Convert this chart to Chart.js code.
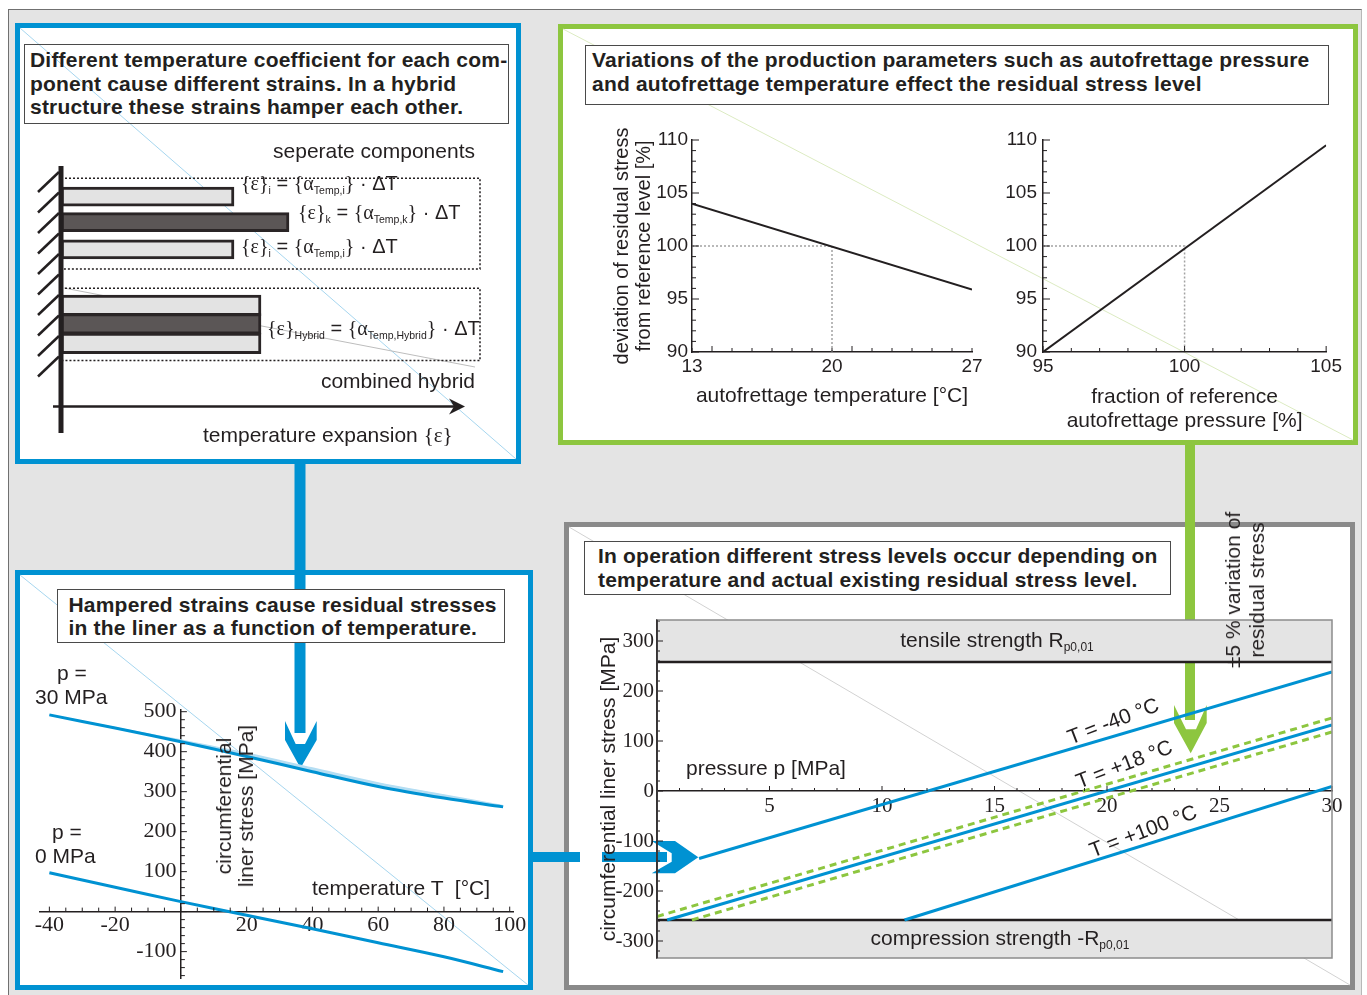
<!DOCTYPE html>
<html>
<head>
<meta charset="utf-8">
<title>Residual stresses in a hybrid liner</title>
<script src="https://cdn.jsdelivr.net/npm/chart.js@4.4.1/dist/chart.umd.min.js"></script>
<style>
  body { margin: 0; background: #fff; }
  #page { position: relative; width: 1367px; height: 995px; overflow: hidden;
          font-family: "Liberation Sans", Arial, sans-serif; color: #231f20; }
  #frame { position: absolute; left: 8px; top: 9px; width: 1352px; height: 990px; background: #e4e4e4;
           border-left: 1.5px solid #707070; border-top: 1.5px solid #707070; border-right: 1px solid #b8b8b8; }
  .panel { position: absolute; box-sizing: border-box; background: #fff; border: 5px solid; }
  .blue { border-color: #0092d2; }
  .green { border-color: #8dc63f; }
  .grey { border-color: #8a8a8a; }
  .tbox { position: absolute; box-sizing: border-box; border: 1.5px solid #4a4a4a; background: #fff;
          font-weight: bold; font-size: 21px; letter-spacing: 0.2px; white-space: nowrap; z-index: 5; }
  .lbl { position: absolute; font-size: 21px; line-height: 24px; white-space: nowrap; z-index: 5; }
  .f { font-size: 20px; }
  .f sub { font-size: 10.5px; }
  .c { transform: translateX(-50%); }
  .rot { transform: translate(-50%, -50%) rotate(-90deg); text-align: center; line-height: 22px; }
  .tl { transform: translate(-50%, -50%) rotate(-21deg); }
  sub { font-size: 12px; vertical-align: -4px; line-height: 0; }
  .sym { font-family: "Liberation Serif", "Times New Roman", serif; }
  canvas { position: absolute; z-index: 3; }
  #deco { position: absolute; left: 0; top: 0; z-index: 2; }
</style>
</head>
<body>
<div id="page">
  <div id="frame"></div>

  <div class="panel blue"  style="left:15px;top:23px;width:506px;height:441px"></div>
  <div class="panel green" style="left:558px;top:24px;width:800px;height:421px"></div>
  <div class="panel blue"  style="left:15px;top:570px;width:518px;height:420px"></div>
  <div class="panel grey"  style="left:564px;top:522px;width:791px;height:468px"></div>

  <svg id="deco" width="1367" height="995">
    <line x1="20" y1="28" x2="516" y2="459" stroke="#a6d6ef" stroke-width="1"/>
    <line x1="563" y1="29" x2="1353" y2="440" stroke="#dcebc2" stroke-width="1"/>
    <line x1="20" y1="575" x2="528" y2="985" stroke="#a6d6ef" stroke-width="1"/>
    <line x1="569" y1="527" x2="1350" y2="985" stroke="#d2d2d2" stroke-width="1"/>
    <line x1="64" y1="288" x2="475" y2="367" stroke="#bdbdbd" stroke-width="1"/>
    <!-- blue link: panel 1 -> panel 3 -->
    <rect x="294.5" y="462" width="11" height="271" fill="#0092d2"/>
    <polygon points="285,721 295.7,744 305,744 316.7,721 316.7,740 300.5,768 285,740" fill="#0092d2"/>
    <!-- blue link: panel 3 -> panel 4 -->
    <rect x="531" y="852" width="49" height="10" fill="#0092d2"/>
    <rect x="602" y="852" width="65" height="10" fill="#0092d2"/>
    <polygon points="651.7,841 675,841 698.3,857.3 675,873.3 651.7,873.3 671.7,861.7 671.7,853.3" fill="#0092d2"/>
    <!-- green link: panel 2 -> panel 4 -->
    <rect x="1185" y="443" width="10" height="277" fill="#8dc63f"/>
    <polygon points="1174,705 1186,729.3 1196,729.3 1206.7,705 1206.7,723 1190.7,753.3 1174,723" fill="#8dc63f"/>
  </svg>

  <div class="tbox" style="left:24px;top:44px;width:485px;height:80px;padding:3px 0 0 5px;line-height:23.5px;background:transparent">
    Different temperature coefficient for each com-<br>ponent cause different strains. In a hybrid<br>structure these strains hamper each other.</div>
  <div class="tbox" style="left:585px;top:45px;width:744px;height:60px;padding:1.5px 0 0 6px;line-height:24px">
    Variations of the production parameters such as autofrettage pressure<br>and autofrettage temperature effect the residual stress level</div>
  <div class="tbox" style="left:57px;top:589px;width:448px;height:54px;padding:2.5px 0 0 10.5px;line-height:23.3px">
    Hampered strains cause residual stresses<br>in the liner as a function of temperature.</div>
  <div class="tbox" style="left:584px;top:541px;width:587px;height:54px;padding:1.5px 0 0 13px;line-height:24.5px">
    In operation different stress levels occur depending on<br>temperature and actual existing residual stress level.</div>

  <!-- panel 1 texts -->
  <div class="lbl" style="right:892px;top:139px">seperate components</div>
  <div class="lbl" style="right:892px;top:369px">combined hybrid</div>
  <div class="lbl" style="left:203px;top:423px">temperature expansion <span class="sym">{ε}</span></div>
  <div class="lbl f" style="left:241px;top:171px"><span class="sym">{ε}</span><sub>i</sub> = <span class="sym">{α</span><sub>Temp,i</sub><span class="sym">}</span> · ΔT</div>
  <div class="lbl f" style="left:298px;top:200px"><span class="sym">{ε}</span><sub>k</sub> = <span class="sym">{α</span><sub>Temp,k</sub><span class="sym">}</span> · ΔT</div>
  <div class="lbl f" style="left:241px;top:234px"><span class="sym">{ε}</span><sub>i</sub> = <span class="sym">{α</span><sub>Temp,i</sub><span class="sym">}</span> · ΔT</div>
  <div class="lbl f" style="left:267px;top:316px"><span class="sym">{ε}</span><sub>Hybrid</sub> = <span class="sym">{α</span><sub>Temp,Hybrid</sub><span class="sym">}</span> · ΔT</div>

  <!-- panel 3 texts -->
  <div class="lbl" style="left:57px;top:661px">p =</div>
  <div class="lbl" style="left:35px;top:685px">30 MPa</div>
  <div class="lbl" style="left:52px;top:820px">p =</div>
  <div class="lbl" style="left:35px;top:844px">0 MPa</div>
  <div class="lbl rot" style="left:235px;top:806px">circumferential<br>liner stress [MPa]</div>
  <div class="lbl" style="left:312px;top:876px">temperature T &nbsp;[°C]</div>

  <!-- panel 4 texts -->
  <div class="lbl c" style="left:997px;top:628px">tensile strength R<sub>p0,01</sub></div>
  <div class="lbl c" style="left:1000px;top:926px">compression strength -R<sub>p0,01</sub></div>
  <div class="lbl" style="left:686px;top:756px">pressure p [MPa]</div>
  <div class="lbl tl" style="left:1113px;top:721px">T = -40 °C</div>
  <div class="lbl tl" style="left:1124px;top:764px">T = +18 °C</div>
  <div class="lbl tl" style="left:1143px;top:831px">T = +100 °C</div>
  <div class="lbl rot" style="left:1245px;top:590px;line-height:24px">±5 % variation of<br>residual stress</div>

  <canvas id="layers" width="496" height="330" style="left:20px;top:128px"></canvas>
  <canvas id="afTemp" width="390" height="320" style="left:600px;top:120px"></canvas>
  <canvas id="afPress" width="345" height="320" style="left:1000px;top:120px"></canvas>
  <canvas id="liner" width="508" height="335" style="left:20px;top:650px"></canvas>
  <canvas id="operation" width="784" height="384" style="left:568px;top:600px"></canvas>
</div>

<script>
// ---- panel 1: free thermal strain of the layers and of the hybrid
const layerRows = [1, 1.97, 3];
const layerKinds = ['i', 'k', 'i'];
const layerStrain = [173, 228, 173];
const hybridRows = [5.124, 5.824, 6.565];
const hybridKinds = ['i', 'k', 'i'];
const hybridStrain = [200, 200, 200];

// ---- panel 2: residual stress vs. autofrettage temperature / pressure
const afTemp = [13, 27];
const afTempStress = [104.0, 95.9];
const afTempRefX = [13, 20, 20];
const afTempRefY = [100, 100, 90];
const afPress = [95, 105];
const afPressStress = [90, 109.5];
const afPressRefX = [95, 100, 100];
const afPressRefY = [100, 100, 90];
const deviationTicks = [90, 95, 100, 105, 110];
const afTempTicks = [13, 20, 27];
const afPressTicks = [95, 100, 105];

// ---- panel 3: liner stress vs. temperature
const linerTemp = [-40, -20, 0, 20, 40, 60, 80, 98];
const linerStress30 = [492, 459, 425, 388, 350, 313, 284, 262];
const linerStress30Band = [492, 460, 429, 396, 359, 322, 292, 265];
const linerStress0 = [97, 61, 25, -9, -43, -78, -113, -150];
const linerTempTicks = [-40, -20, 20, 40, 60, 80, 100];
const linerStressTicks = [-100, 100, 200, 300, 400, 500];

// ---- panel 4: liner stress vs. operating pressure
const pM40 = [1.87, 30], sM40 = [-135, 238];
const pP18 = [0.45, 30], sP18 = [-258, 132];
const pP18Hi = [0, 30], sP18Hi = [-251, 146];
const pP18Lo = [1.55, 30], sP18Lo = [-258, 118];
const pP100 = [11.0, 30], sP100 = [-258, 9];
const strengthLimit = 258;
const opPressTicks = [5, 10, 15, 20, 25, 30];
const opStressTicks = [-300, -200, -100, 0, 100, 200, 300];

const INK = '#231f20';
const BLUE = '#0092d2';
const GREEN = '#8dc63f';
const SERIF = '"Liberation Serif", "Times New Roman", serif';
const kindColor = { i: '#e3e3e3', k: '#5b5656' };

Chart.defaults.font.family = '"Liberation Sans", Arial, sans-serif';
Chart.defaults.color = INK;
Chart.defaults.animation = false;
Chart.defaults.responsive = false;
Chart.defaults.plugins.legend.display = false;
Chart.defaults.plugins.tooltip.enabled = false;
Chart.defaults.elements.point.radius = 0;

const pts = (xs, ys) => xs.map((x, i) => ({ x, y: ys[i] }));
const fixTicks = list => scale => { scale.ticks = list.map(v => ({ value: v })); };
// axes drawn through the origin must not push the plot area around
const noRoom = s => { s.width = s.isHorizontal() ? s.width : 0; s.height = s.isHorizontal() ? 0 : s.height;
  s.paddingTop = s.paddingBottom = s.paddingLeft = s.paddingRight = 0; };

// small tick marks drawn on the inner side of the axes
const innerTicks = {
  id: 'innerTicks',
  afterDraw(chart, args, opts) {
    const ctx = chart.ctx;
    ctx.save();
    ctx.strokeStyle = INK;
    ctx.lineWidth = 1;
    ['x', 'y'].forEach(id => {
      const o = opts[id];
      if (!o) return;
      const s = chart.scales[id];
      const pos = s.options.position;
      let base;
      if (id === 'x') base = typeof pos === 'object' ? chart.scales.y.getPixelForValue(pos.y) : s.top;
      else base = typeof pos === 'object' ? chart.scales.x.getPixelForValue(pos.x) : s.right;
      for (let v = o.from; v <= s.max + 1e-9; v += o.step) {
        const p = s.getPixelForValue(v);
        const r = v / o.major;
        const len = Math.abs(r - Math.round(r)) < 1e-6 ? o.long : o.short;
        ctx.beginPath();
        if (id === 'x') { ctx.moveTo(p, base); ctx.lineTo(p, base - len); }
        else { ctx.moveTo(base, p); ctx.lineTo(base + len, p); }
        ctx.stroke();
      }
    });
    ctx.restore();
  }
};

const axisLine = { color: INK, width: 1.5 };
const noGrid = { display: false, drawTicks: false };

// ---------------- panel 1
const layerDecor = {
  id: 'layerDecor',
  afterDatasetsDraw(chart) {
    const { ctx, chartArea: a, scales: { x, y } } = chart;
    ctx.save();
    ctx.strokeStyle = INK;
    ctx.fillStyle = INK;
    ctx.lineWidth = 1.5;
    ctx.setLineDash([2, 2]);
    [[0.3, 3.745], [4.47, 7.216]].forEach(([t, b]) => {
      const yt = y.getPixelForValue(t), yb = y.getPixelForValue(b);
      ctx.strokeRect(a.left, yt, a.right - a.left, yb - yt);
    });
    ctx.setLineDash([]);
    // clamped wall
    ctx.lineWidth = 5;
    ctx.beginPath(); ctx.moveTo(a.left, a.top); ctx.lineTo(a.left, a.bottom); ctx.stroke();
    ctx.lineWidth = 2.5;
    for (let i = 0; i < 10; i++) {
      const yy = a.top + 6 + i * 20.5;
      ctx.beginPath(); ctx.moveTo(a.left - 2, yy); ctx.lineTo(a.left - 23, yy + 20); ctx.stroke();
    }
    // expansion axis arrow
    const ay = y.getPixelForValue(8.96);
    const x0 = x.getPixelForValue(-8), x1 = x.getPixelForValue(404);
    ctx.lineWidth = 2.5;
    ctx.beginPath(); ctx.moveTo(x0, ay); ctx.lineTo(x1 - 8, ay); ctx.stroke();
    ctx.beginPath();
    ctx.moveTo(x1, ay); ctx.lineTo(x1 - 16, ay - 8); ctx.lineTo(x1 - 11, ay);
    ctx.lineTo(x1 - 16, ay + 8); ctx.closePath(); ctx.fill();
    ctx.restore();
  }
};

new Chart(document.getElementById('layers'), {
  type: 'bar',
  data: {
    datasets: [
      { data: pts(layerStrain, layerRows), backgroundColor: layerKinds.map(k => kindColor[k]), barThickness: 19 },
      { data: pts(hybridStrain, hybridRows), backgroundColor: hybridKinds.map(k => kindColor[k]), barThickness: 20.5 }
    ]
  },
  options: {
    indexAxis: 'y',
    datasets: { bar: { grouped: false, borderColor: '#2a2526', borderWidth: 3, borderSkipped: false } },
    layout: { padding: { left: 41, right: 36, top: 38, bottom: 25 } },
    scales: {
      x: { type: 'linear', min: 0, max: 419, display: false },
      y: { type: 'linear', min: 0.3, max: 9.5, reverse: true, display: false }
    }
  },
  plugins: [layerDecor]
});

// ---------------- panel 2
const refLine = { borderColor: '#a3a3a3', borderWidth: 1.5, borderDash: [2, 2] };
const tickFont = { size: 19 };

new Chart(document.getElementById('afTemp'), {
  type: 'line',
  data: {
    datasets: [
      { data: pts(afTemp, afTempStress), borderColor: INK, borderWidth: 2 },
      { data: pts(afTempRefX, afTempRefY), ...refLine }
    ]
  },
  options: {
    layout: { padding: { top: 20, right: 18 } },
    scales: {
      x: {
        type: 'linear', min: 13, max: 27, grid: noGrid, border: axisLine,
        afterBuildTicks: fixTicks(afTempTicks), afterFit: s => { s.height = 88; },
        ticks: { font: tickFont, padding: 3, autoSkip: false, maxRotation: 0 },
        title: { display: true, text: 'autofrettage temperature [°C]', font: { size: 21 }, padding: { bottom: 31 } }
      },
      y: {
        min: 90, max: 110, grid: noGrid, border: axisLine,
        afterBuildTicks: fixTicks(deviationTicks), afterFit: s => { s.width = 92; },
        ticks: { font: tickFont, padding: 4 },
        title: { display: true, text: ['deviation of residual stress', 'from reference level [%]'],
                 font: { size: 20, lineHeight: 1.1 }, padding: { top: 11 } }
      }
    },
    plugins: { innerTicks: {
      x: { from: 13, step: 1, major: 7, short: 4, long: 6 },
      y: { from: 90, step: 1, major: 5, short: 4, long: 7 } } }
  },
  plugins: [innerTicks]
});

new Chart(document.getElementById('afPress'), {
  type: 'line',
  data: {
    datasets: [
      { data: pts(afPress, afPressStress), borderColor: INK, borderWidth: 2 },
      { data: pts(afPressRefX, afPressRefY), ...refLine }
    ]
  },
  options: {
    layout: { padding: { top: 20, right: 18 } },
    scales: {
      x: {
        type: 'linear', min: 95, max: 105, grid: noGrid, border: axisLine,
        afterBuildTicks: fixTicks(afPressTicks), afterFit: s => { s.height = 88; },
        ticks: { font: tickFont, padding: 3, autoSkip: false, maxRotation: 0 },
        title: { display: true, text: ['fraction of reference', 'autofrettage pressure [%]'],
                 font: { size: 21, lineHeight: 1.15 }, padding: { bottom: 7 } }
      },
      y: {
        min: 90, max: 110, grid: noGrid, border: axisLine,
        afterBuildTicks: fixTicks(deviationTicks), afterFit: s => { s.width = 43; },
        ticks: { font: tickFont, padding: 6 }
      }
    },
    plugins: { innerTicks: {
      x: { from: 95, step: 1, major: 5, short: 4, long: 6 },
      y: { from: 90, step: 1, major: 5, short: 4, long: 7 } } }
  },
  plugins: [innerTicks]
});

// ---------------- panel 3
new Chart(document.getElementById('liner'), {
  type: 'line',
  data: {
    datasets: [
      { data: pts(linerTemp, linerStress30), borderColor: BLUE, borderWidth: 3, tension: 0.35 },
      { data: pts(linerTemp, linerStress30Band), borderColor: '#b5def3', borderWidth: 1.5, tension: 0.35,
        fill: '-1', backgroundColor: '#b5def3' },
      { data: pts(linerTemp, linerStress0), borderColor: BLUE, borderWidth: 3, tension: 0.35 }
    ]
  },
  options: {
    layout: { padding: { left: 19.5, right: 15, top: 59.3, bottom: 7 } },
    scales: {
      x: {
        type: 'linear', min: -43, max: 101, position: { y: 0 }, grid: noGrid, border: axisLine,
        afterBuildTicks: fixTicks(linerTempTicks), afterFit: noRoom,
        ticks: { font: { family: SERIF, size: 22 }, padding: 0, autoSkip: false, maxRotation: 0 }
      },
      y: {
        type: 'linear', min: -166, max: 506, position: { x: 0 }, grid: noGrid, border: axisLine,
        afterBuildTicks: fixTicks(linerStressTicks), afterFit: noRoom,
        ticks: { font: { family: SERIF, size: 22 }, callback: v => v + '\u2009' }
      }
    },
    plugins: { innerTicks: {
      x: { from: -40, step: 5, major: 20, short: 4, long: 5 },
      y: { from: -160, step: 20, major: 100, short: 4, long: 6 } } }
  },
  plugins: [innerTicks]
});

// ---------------- panel 4
const plotFrame = {
  id: 'plotFrame',
  afterDraw(chart) {
    const { ctx, chartArea: a } = chart;
    ctx.save();
    ctx.strokeStyle = '#8c8c8c';
    ctx.lineWidth = 1.5;
    ctx.strokeRect(a.left, a.top, a.right - a.left, a.bottom - a.top);
    ctx.strokeStyle = INK;
    ctx.beginPath(); ctx.moveTo(a.left, a.top); ctx.lineTo(a.left, a.bottom); ctx.stroke();
    ctx.restore();
  }
};
const opLine = { borderColor: BLUE, borderWidth: 3 };
const opBand = { borderColor: INK, borderWidth: 2.5, backgroundColor: '#e4e4e4' };

new Chart(document.getElementById('operation'), {
  type: 'line',
  data: {
    datasets: [
      { data: pts(pM40, sM40), ...opLine },
      { data: pts(pP18, sP18), ...opLine },
      { data: pts(pP18Hi, sP18Hi), borderColor: GREEN, borderWidth: 3, borderDash: [7, 5] },
      { data: pts(pP18Lo, sP18Lo), borderColor: GREEN, borderWidth: 3, borderDash: [7, 5] },
      { data: pts(pP100, sP100), ...opLine },
      { data: pts([0, 30], [strengthLimit, strengthLimit]), fill: 'end', ...opBand },
      { data: pts([0, 30], [-strengthLimit, -strengthLimit]), fill: 'start', ...opBand }
    ]
  },
  options: {
    layout: { padding: { right: 20, top: 20, bottom: 26 } },
    scales: {
      x: {
        type: 'linear', min: 0, max: 30, position: { y: 0 }, grid: noGrid, border: axisLine,
        afterBuildTicks: fixTicks(opPressTicks), afterFit: noRoom,
        ticks: { font: { family: SERIF, size: 21 }, padding: 3, autoSkip: false, maxRotation: 0 }
      },
      y: {
        type: 'linear', min: -334, max: 342, grid: noGrid, border: axisLine,
        afterBuildTicks: fixTicks(opStressTicks),
        afterFit: s => { s.width = 89; s.paddingTop = s.paddingBottom = 0; },
        ticks: { font: { family: SERIF, size: 21 }, padding: 3 },
        title: { display: true, text: 'circumferential liner stress [MPa]', font: { size: 21 }, padding: { top: 29 } }
      }
    },
    plugins: { innerTicks: {
      x: { from: 1, step: 1, major: 5, short: 3, long: 5 },
      y: { from: -320, step: 20, major: 100, short: 3, long: 6 } } }
  },
  plugins: [innerTicks, plotFrame]
});
</script>
</body>
</html>
